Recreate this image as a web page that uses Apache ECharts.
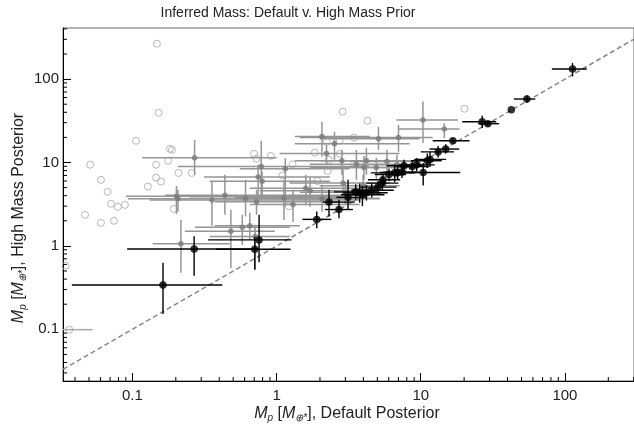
<!DOCTYPE html>
<html><head><meta charset="utf-8">
<script src="https://cdn.jsdelivr.net/npm/echarts@6/dist/echarts.min.js"></script>
<style>html,body{margin:0;padding:0;background:#fff}#c{width:634px;height:430px}</style>
</head><body><div id="c"></div>
<script>
// ---------- text ----------
const chartTitle = 'Inferred Mass: Default v. High Mass Prior';
const xName = '{i|M}{s|p}{t| [}{i|M}{s|⊕*}{t|], Default Posterior}';
const yName = '{i|M}{s|p}{t| [}{i|M}{s|⊕*}{t|], High Mass Posterior}';
const tickLabels = {'-1': '0.1', '0': '1', '1': '10', '2': '100'};
const xRange = [0.033, 301.5];
const yRange = [0.024, 410];
const xMinorTicks = [0.04,0.05,0.06,0.07,0.08,0.09,0.2,0.3,0.4,0.5,0.6,0.7,0.8,0.9,2,3,4,5,6,7,8,9,20,30,40,50,60,70,80,90,200,300];
const yMinorTicks = [0.03,0.04,0.05,0.06,0.07,0.08,0.09,0.2,0.3,0.4,0.5,0.6,0.7,0.8,0.9,2,3,4,5,6,7,8,9,20,30,40,50,60,70,80,90,200,300,400];
const refLine = [0.033, 301.5];

// ---------- black points (constrained) ----------
const blackX   = [0.163,0.268,0.706,0.756,1.90,2.31,2.71,3.13,3.54,3.77,3.94,4.20,4.57,5.05,5.42,5.47,6.02,6.59,6.92,7.41,7.65,8.75,9.37,10.4,11.1,11.6,13.2,14.9,16.7,26.7,29.2,42.5,54.5,113];
const blackY   = [0.340,0.92,0.913,1.18,2.08,3.35,2.73,3.82,4.45,4.33,4.10,4.33,4.64,5.07,5.66,6.20,7.18,7.52,7.59,7.67,9.13,8.95,9.38,7.59,10.5,10.9,13.4,14.5,18.2,30.8,29.2,42.9,57.7,132];
const blackXLo = [0.038,0.092,0.38,0.335,1.51,2.10,2.16,2.60,2.5,2.9,2.8,3.2,3.3,3.8,4.2,4.3,4.8,4.5,5.2,5.5,5.8,6.8,7.0,8.3,8.5,9.0,10.0,11.5,12.1,19.4,25,42.5,44.3,81.2];
const blackXHi = [0.42,0.75,1.25,1.27,2.40,3.48,3.39,4.20,5.0,5.3,5.6,5.9,6.5,6.8,7.0,7.2,7.9,9.0,9.3,9.8,10.2,11.5,12.5,18.8,14.0,15.0,17.0,18.5,21.8,33.4,35,42.5,62.3,141.8];
const blackYLo = [0.153,0.44,0.52,0.637,1.63,2.25,2.15,2.70,3.6,3.3,3.0,3.5,3.8,4.2,4.6,5.2,6.0,5.8,6.3,6.5,7.6,7.6,7.9,5.3,8.6,8.9,11.5,12.8,17.0,25.9,27,42.9,52,108];
const blackYHi = [0.63,1.31,1.29,2.36,2.58,4.70,3.57,6.20,5.5,5.6,5.2,5.4,5.6,6.0,6.8,7.4,8.4,9.5,9.0,9.3,10.8,10.6,11.3,9.84,12.8,13.5,15.8,16.5,19.5,36.4,31.5,42.9,64,156];

// ---------- gray points ----------
const grayX   = [0.270,0.202,0.207,0.356,0.438,0.609,0.726,0.783,0.745,0.794,1.149,1.125,1.301,1.594,1.707,2.064,2.523,2.840,2.067,0.217,0.482,0.578,0.652,0.710,10.36,14.57,7.01,5.09,3.58,4.20,5.83,6.84,4.92,4.04,2.89,3.98,3.00,2.22];
const grayY   = [11.4,3.93,3.67,3.54,4.06,3.72,3.38,8.95,6.68,5.95,8.40,3.77,3.13,4.90,4.57,20.5,16.8,10.5,3.67,1.06,1.50,1.67,1.75,1.30,32.3,25.2,19.95,19.3,9.52,10.5,10.25,9.38,8.71,8.71,5.66,5.25,4.41,12.8];
const grayXLo = [0.117,0.090,0.093,0.132,0.168,0.250,0.373,0.207,0.313,0.344,0.556,0.513,0.652,0.652,0.765,1.337,1.337,1.337,0.897,0.138,0.231,0.271,0.373,0.344,6.78,7.03,1.448,1.99,1.70,1.99,3.22,3.22,1.99,1.70,1.23,1.99,1.45,1.05];
const grayXHi = [1.0,3.2,2.3,3.8,4.4,5.2,2.74,4.4,2.34,2.34,3.22,3.77,3.77,4.43,5.19,4.43,8.38,8.38,5.19,0.474,0.972,1.234,1.448,1.234,18.1,18.6,12.1,9.83,7.14,7.14,9.83,11.5,8.38,7.14,6.09,7.14,5.19,7.14];
const grayYLo = [7.12,2.42,2.56,1.74,2.36,2.25,2.36,3.57,4.10,4.10,2.96,2.05,1.94,3.11,2.94,11.7,10.8,7.12,2.56,0.478,0.544,1.03,1.18,0.515,17.1,19.6,13.4,14.2,6.20,7.12,7.12,6.55,6.20,6.20,3.57,3.77,3.11,9.38];
const grayYHi = [18.6,5.25,4.70,5.91,7.12,6.20,4.70,18.2,9.38,7.73,11.3,6.20,4.70,7.12,6.55,30.8,23.4,14.2,5.40,2.05,2.71,2.36,2.49,1.79,54.0,29.7,28.4,26.8,14.2,15.0,14.2,12.4,11.4,12.0,8.17,7.12,5.87,16.3];

// ---------- open circles ----------
const openX = [0.148,0.152,0.106,0.182,0.188,0.051,0.146,0.177,0.209,0.258,0.146,0.158,0.0605,0.128,0.0673,0.071,0.0794,0.0887,0.0469,0.0605,0.0745,0.194,0.0344,0.0365,0.698,0.726,0.912,1.84,1.29,2.23,2.74,2.74,2.30,2.26,1.10,1.22,1.92,2.87,4.27,20.1,3.44];
const openY = [266,39.5,18.2,14.6,14.2,9.4,9.4,10.5,7.5,7.5,6.6,5.9,6.2,5.15,4.45,3.2,2.94,3.1,2.36,1.89,2.0,2.78,0.58,0.099,12.7,11.1,12.0,13.1,9.5,17.7,18.2,12.7,10.8,7.9,7.0,2.98,6.0,40.6,31.7,44.1,19.9];
const openBarX = [0.0365], openBarY = [0.099], openBarXLo = [0.02], openBarXHi = [0.053];

// ---------- build ----------
const zip = (...a) => a[0].map((_, i) => a.map(arr => arr[i]));
const blackErr = zip(blackX, blackY, blackXLo, blackXHi, blackYLo, blackYHi);
const grayErr = zip(grayX, grayY, grayXLo, grayXHi, grayYLo, grayYHi);
const openErr = zip(openBarX, openBarY, openBarXLo, openBarXHi, openBarY, openBarY);

function errRender(color, width) {
  return function (params, api) {
    const cs = params.coordSys;
    const x = api.value(0), y = api.value(1);
    const p0 = api.coord([api.value(2), y]);
    const p1 = api.coord([api.value(3), y]);
    const q0 = api.coord([x, api.value(4)]);
    const q1 = api.coord([x, api.value(5)]);
    const cx = v => Math.max(cs.x, Math.min(cs.x + cs.width, v));
    const cy = v => Math.max(cs.y, Math.min(cs.y + cs.height, v));
    return {type: 'group', children: [
      {type: 'line', shape: {x1: cx(p0[0]), y1: p0[1], x2: cx(p1[0]), y2: p1[1]}, style: {stroke: color, lineWidth: width}},
      {type: 'line', shape: {x1: q0[0], y1: cy(q0[1]), x2: q1[0], y2: cy(q1[1])}, style: {stroke: color, lineWidth: width}}
    ]};
  };
}
function minorRender(axis) {
  return function (params, api) {
    const v = api.value(0);
    if (axis === 'x') {
      const p = api.coord([v, yRange[0]]);
      return {type: 'line', shape: {x1: p[0], y1: p[1], x2: p[0], y2: p[1] - 4}, style: {stroke: '#000', lineWidth: 1}};
    } else {
      const p = api.coord([xRange[0], v]);
      return {type: 'line', shape: {x1: p[0], y1: p[1], x2: p[0] + 4, y2: p[1]}, style: {stroke: '#000', lineWidth: 1}};
    }
  };
}
const labelFmt = v => {
  const e = Math.log10(v);
  const r = Math.round(e);
  if (Math.abs(e - r) < 1e-6 && tickLabels[String(r)] !== undefined) return tickLabels[String(r)];
  return '';
};
const FAM = '"Liberation Sans", Arial, Helvetica, sans-serif';
const rich = {
  i: {font: 'italic 16px ' + FAM, fill: '#222', lineHeight: 19},
  t: {font: '16px ' + FAM, fill: '#222', lineHeight: 19},
  s: {font: 'italic 10px ' + FAM, fill: '#222', lineHeight: 9, verticalAlign: 'bottom'}
};

const chart = echarts.init(document.getElementById('c'), null, {renderer: 'canvas'});
chart.setOption({
  animation: false,
  backgroundColor: '#fff',
  grid: {left: 63, top: 28, width: 572, height: 353, show: true, borderColor: '#666', borderWidth: 1, containLabel: false},
  xAxis: {
    type: 'log', logBase: 10, min: xRange[0], max: xRange[1],
    axisLine: {show: true, onZero: false, lineStyle: {color: '#000', width: 1}},
    axisTick: {show: true, inside: true, length: 8, lineStyle: {color: '#000'}},
    axisLabel: {formatter: labelFmt, fontSize: 15, color: '#222', margin: 7, fontFamily: FAM, showMinLabel: false, showMaxLabel: false},
    splitLine: {show: false}
  },
  yAxis: {
    type: 'log', logBase: 10, min: yRange[0], max: yRange[1],
    axisLine: {show: true, onZero: false, lineStyle: {color: '#000', width: 1}},
    axisTick: {show: true, inside: true, length: 8, lineStyle: {color: '#000'}},
    axisLabel: {formatter: labelFmt, fontSize: 15, color: '#222', margin: 4, fontFamily: FAM, showMinLabel: false, showMaxLabel: false},
    splitLine: {show: false}
  },
  graphic: [
    {type: 'text', x: 288, y: 13, style: {text: chartTitle, font: '14px ' + FAM, fill: '#222', textAlign: 'center', textVerticalAlign: 'middle'}},
    {type: 'text', x: 347, y: 414, style: {text: xName, rich: rich, font: '16px ' + FAM, fill: '#222', textAlign: 'center', textVerticalAlign: 'middle'}},
    {type: 'text', x: 19, y: 218, rotation: Math.PI / 2, style: {text: yName, rich: rich, font: '16px ' + FAM, fill: '#222', textAlign: 'center', textVerticalAlign: 'middle'}}
  ],
  series: [
    {type: 'custom', data: xMinorTicks.map(v => [v]), renderItem: minorRender('x'), encode: {x: 0}, silent: true, z: 1},
    {type: 'custom', data: yMinorTicks.map(v => [v]), renderItem: minorRender('y'), encode: {y: 0}, silent: true, z: 1},
    {type: 'scatter', data: zip(openX, openY), symbol: 'circle', symbolSize: 7,
     itemStyle: {color: 'rgba(255,255,255,0)', borderColor: '#a8a8a8', borderWidth: 1}, z: 2, silent: true},
    {type: 'custom', data: openErr, renderItem: errRender('#a8a8a8', 1.5), encode: {x: 0, y: 1}, z: 2, silent: true},
    {type: 'custom', data: grayErr, renderItem: errRender('#959595', 1.5), encode: {x: 0, y: 1}, z: 3, silent: true},
    {type: 'scatter', data: zip(grayX, grayY), symbolSize: 5.5, itemStyle: {color: '#7a7a7a'}, z: 4, silent: true},
    {type: 'line', data: [[refLine[0], refLine[0]], [refLine[1], refLine[1]]], symbol: 'none',
     lineStyle: {color: '#888', width: 1.5, type: [5, 3]}, z: 5, silent: true},
    {type: 'custom', data: blackErr, renderItem: errRender('#000', 1.4), encode: {x: 0, y: 1}, z: 6, silent: true},
    {type: 'scatter', data: zip(blackX, blackY), symbolSize: 7.5, itemStyle: {color: '#000'}, z: 7, silent: true}
  ]
});
</script>
</body></html>
